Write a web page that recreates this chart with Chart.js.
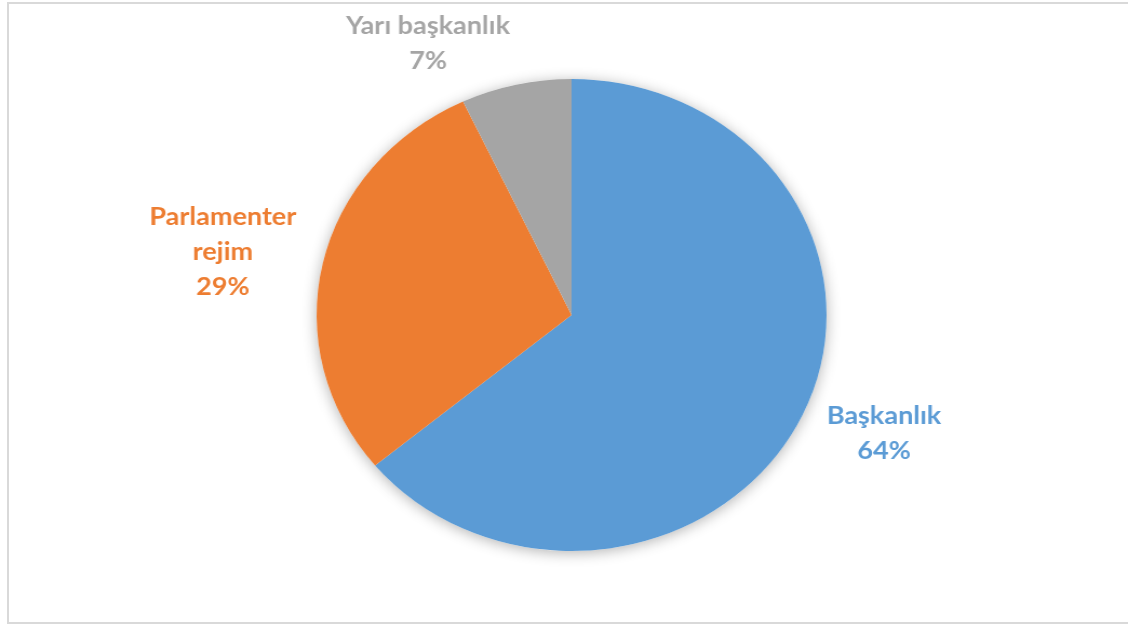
<!DOCTYPE html>
<html>
<head>
<meta charset="utf-8">
<script src="https://cdn.jsdelivr.net/npm/chart.js@4/dist/chart.umd.min.js"></script>
<style>
  html, body { margin: 0; padding: 0; background: #fff; overflow: hidden; }
  #frame {
    position: absolute; left: 7px; top: 2px; width: 1130px; height: 622px;
    border: 2px solid #d9d9d9; box-sizing: border-box;
  }
  #pie-chart { position: absolute; left: 0; top: 0; }
</style>
</head>
<body>
<div id="frame"></div>
<canvas id="pie-chart" width="1044" height="628" style="width:1128px;height:628px"></canvas>
<script>
// Yönetim biçimleri dağılımı
var rejimler = [['Başkanlık'], ['Parlamenter', 'rejim'], ['Yarı başkanlık']];
var yuzdeler = [64, 29, 7];
var renkler = ['#5b9bd5', '#ed7d31', '#a5a5a5'];

// pastanın arkasındaki yumuşak gölge
var golge = {
  id: 'golge',
  beforeDatasetsDraw: function (chart) {
    var arc = chart.getDatasetMeta(0).data[0];
    var ctx = chart.ctx;
    ctx.save();
    ctx.shadowColor = 'rgba(0,0,0,0.30)';
    ctx.shadowBlur = 14;
    ctx.shadowOffsetY = 2;
    ctx.fillStyle = '#ffffff';
    ctx.beginPath();
    ctx.arc(arc.x, arc.y, arc.outerRadius, 0, Math.PI * 2);
    ctx.fill();
    ctx.restore();
  }
};

// dilimlerin dışındaki etiketler (ad + yüzde)
var etiketler = {
  id: 'etiketler',
  afterDatasetsDraw: function (chart) {
    var ctx = chart.ctx;
    var lineH = 35;
    ctx.save();
    ctx.font = 'bold 25px Lato';
    ctx.textAlign = 'center';
    ctx.textBaseline = 'middle';
    chart.getDatasetMeta(0).data.forEach(function (arc, i) {
      var lines = chart.data.labels[i].concat([chart.data.datasets[0].data[i] + '%']);
      var w = 0;
      lines.forEach(function (l) { w = Math.max(w, ctx.measureText(l).width); });
      var h = lines.length * lineH;
      var mid = (arc.startAngle + arc.endAngle) / 2;
      var dx = Math.cos(mid), dy = Math.sin(mid);
      var r = arc.outerRadius + 25;
      var cx = arc.x + dx * r + (dx >= 0 ? 1 : -1) * w / 2;
      var cy = arc.y + dy * r + dy * h / 4;
      ctx.fillStyle = renkler[i];
      lines.forEach(function (l, k) {
        ctx.fillText(l, cx, cy - h / 2 + lineH / 2 + k * lineH);
      });
    });
    ctx.restore();
  }
};

var ctx = document.getElementById('pie-chart').getContext('2d');
var pieChart = new Chart(ctx, {
  type: 'pie',
  data: {
    labels: rejimler,
    datasets: [{
      data: yuzdeler,
      backgroundColor: renkler,
      borderWidth: 0,
      hoverOffset: 0
    }]
  },
  options: {
    responsive: false,
    animation: false,
    layout: { padding: { left: 293, right: 279, top: 79, bottom: 77 } },
    plugins: {
      legend: { display: false },
      tooltip: { enabled: false }
    }
  },
  plugins: [golge, etiketler]
});
</script>
</body>
</html>
